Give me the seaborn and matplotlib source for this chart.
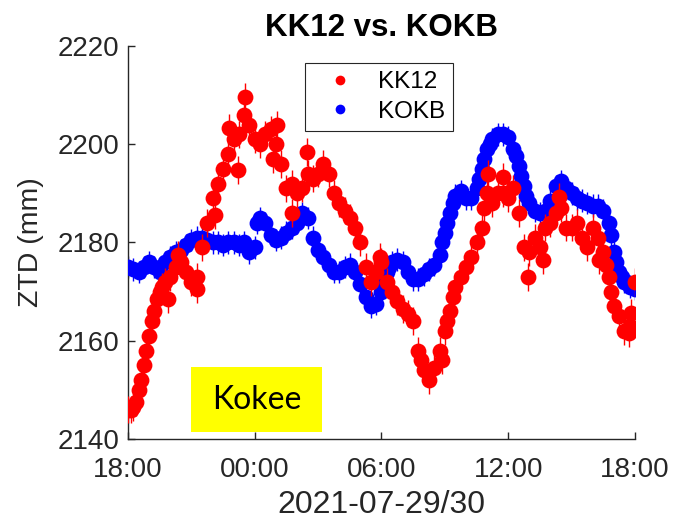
import matplotlib
matplotlib.use("Agg")
import matplotlib.pyplot as plt
import matplotlib.dates as mdates
from matplotlib.lines import Line2D
from matplotlib.patches import Rectangle
import pandas as pd
import seaborn as sns

# --- data -------------------------------------------------------------
START = "2021-07-29 18:00"
END = "2021-07-30 18:00"

# ZTD samples every 15 minutes, 18:00 -> 18:00 (mm)
kokb_ztd = [
    2175, 2174.5, 2174, 2175, 2176, 2175, 2174, 2176, 2177, 2178,
    2178.5, 2179.5, 2180.5, 2181, 2181, 2180.5, 2180, 2180, 2179.5, 2180,
    2180, 2179.5, 2180, 2178, 2179, 2185, 2184, 2181.5, 2180.5, 2181,
    2182, 2183, 2184, 2186, 2185, 2181, 2178.5, 2177, 2175.5, 2174,
    2174, 2175, 2175.5, 2174, 2171.5, 2169, 2167, 2167.5, 2170, 2174,
    2176, 2176.5, 2176, 2174, 2172.5, 2172.5, 2173.5, 2174.5, 2175.5, 2177.5,
    2182, 2186, 2189.5, 2190.5, 2189, 2189, 2191, 2195, 2199, 2201,
    2202, 2202, 2201.5, 2199, 2195.5, 2191.5, 2188, 2186.5, 2186, 2186.5,
    2188.5, 2191.5, 2192.5, 2191, 2190, 2189, 2188.5, 2188, 2187.5, 2187.5,
    2186.5, 2184, 2178, 2174, 2172, 2171, 2170.5,
]

kk12_ztd = [
    2146, 2146.5, 2150, 2155, 2161, 2166, 2170, 2172, 2173, 2175,
    2176, 2174, 2172, 2173, 2179, 2184, 2189, 2192, 2195, 2198,
    2201, 2202, 2206, 2204, 2201, 2200, 2202, 2203, 2200, 2196,
    2191, 2192, 2190, 2191, 2194, 2193, 2194, 2196, 2194, 2190,
    2188, 2186.5, 2185, 2183, 2180, 2175, 2172, 2174, 2176, 2172,
    2170, 2168, 2166.5, 2165.5, 2164, 2158, 2154, 2152, 2154.5, 2158,
    2162, 2166, 2171, 2173, 2175, 2177, 2180, 2183, 2190, 2188,
    2190, 2190, 2189, 2191, 2186, 2179, 2178, 2181, 2179, 2183,
    2184, 2186, 2187, 2183, 2183, 2184, 2181, 2179, 2183, 2181,
    2178, 2173, 2167, 2165, 2162, 2163, 2172,
]

# intermediate KOKB solutions during the fast changes
kokb_extra_time = [
    "2021-07-30 00:07", "2021-07-30 06:07", "2021-07-30 06:22",
    "2021-07-30 08:52", "2021-07-30 09:07", "2021-07-30 09:22",
    "2021-07-30 10:37", "2021-07-30 10:52", "2021-07-30 11:07",
    "2021-07-30 12:22", "2021-07-30 12:37", "2021-07-30 12:52",
    "2021-07-30 16:52", "2021-07-30 17:07", "2021-07-30 17:22",
]
kokb_extra_ztd = [
    2184, 2172, 2175,
    2180, 2184, 2188,
    2193, 2197, 2200,
    2197.5, 2193.5, 2189.5,
    2181.5, 2176, 2173,
]

# intermediate and scattered KK12 solutions
kk12_extra_time = [
    "2021-07-29 18:07", "2021-07-29 18:22", "2021-07-29 18:37",
    "2021-07-29 18:52", "2021-07-29 19:07", "2021-07-29 19:22",
    "2021-07-29 19:37", "2021-07-29 19:54", "2021-07-29 20:22",
    "2021-07-29 21:15", "2021-07-29 22:06", "2021-07-29 22:48",
    "2021-07-29 23:12", "2021-07-29 23:33", "2021-07-30 00:51",
    "2021-07-30 01:03", "2021-07-30 01:46", "2021-07-30 02:29",
    "2021-07-30 05:56", "2021-07-30 07:52", "2021-07-30 08:51",
    "2021-07-30 09:07", "2021-07-30 09:22", "2021-07-30 10:52",
    "2021-07-30 11:02", "2021-07-30 11:45", "2021-07-30 12:56",
    "2021-07-30 13:39", "2021-07-30 14:24", "2021-07-30 16:18",
    "2021-07-30 16:37", "2021-07-30 16:52", "2021-07-30 17:42",
    "2021-07-30 17:48",
]
kk12_extra_ztd = [
    2146, 2147.5, 2152,
    2158, 2164, 2168.5,
    2171, 2168.5, 2177.5,
    2170.5, 2185.5, 2203.3,
    2194.8, 2209.6, 2197,
    2204, 2186, 2198.4,
    2177, 2156, 2156,
    2164, 2169, 2187,
    2194, 2193.3, 2173,
    2176.4, 2189.3, 2176.4,
    2175.5, 2170, 2161.5,
    2165.6,
]

KK12_SIGMA = 2.8   # mm
KOKB_SIGMA = 2.3   # mm

y_ticks = [2140, 2160, 2180, 2200, 2220]

# --- tables -----------------------------------------------------------
epochs = pd.date_range(START, END, freq="15min")
kokb = pd.concat([
    pd.DataFrame({"time": epochs, "ztd": kokb_ztd}),
    pd.DataFrame({"time": pd.to_datetime(kokb_extra_time), "ztd": kokb_extra_ztd}),
]).sort_values("time")
kk12 = pd.concat([
    pd.DataFrame({"time": epochs, "ztd": kk12_ztd}),
    pd.DataFrame({"time": pd.to_datetime(kk12_extra_time), "ztd": kk12_extra_ztd}),
]).sort_values("time")

# --- figure -----------------------------------------------------------
sns.set_style("ticks")
plt.rcParams["font.family"] = ["Liberation Sans", "DejaVu Sans"]
ink = "#262626"

fig = plt.figure(figsize=(6.74, 5.22), dpi=100)
ax = fig.add_axes([0.190, 0.159, 0.752, 0.753])

# KOKB first, KK12 on top
ax.errorbar(kokb["time"], kokb["ztd"], yerr=KOKB_SIGMA, fmt="none",
            ecolor="blue", elinewidth=1.0, capsize=0, zorder=2)
sns.scatterplot(data=kokb, x="time", y="ztd", ax=ax, color="blue",
                s=130, linewidth=0, zorder=3, legend=False)
ax.errorbar(kk12["time"], kk12["ztd"], yerr=KK12_SIGMA, fmt="none",
            ecolor="red", elinewidth=1.0, capsize=0, zorder=4)
sns.scatterplot(data=kk12, x="time", y="ztd", ax=ax, color="red",
                s=130, linewidth=0, zorder=5, legend=False)

ax.set_xlim(pd.Timestamp(START), pd.Timestamp(END))
ax.set_ylim(2140, 2220)
ax.set_yticks(y_ticks)
ax.xaxis.set_major_locator(mdates.HourLocator(byhour=[0, 6, 12, 18]))
ax.xaxis.set_major_formatter(mdates.DateFormatter("%H:%M"))

for side in ("top", "right"):
    ax.spines[side].set_visible(False)
for side in ("left", "bottom"):
    ax.spines[side].set_color(ink)
    ax.spines[side].set_linewidth(1.0)
ax.tick_params(direction="in", length=5, width=1.0, colors=ink,
               labelsize=20)
ax.tick_params(axis="y", pad=6)
ax.tick_params(axis="x", pad=13)

ax.set_xlabel("2021-07-29/30", fontsize=23, color=ink, labelpad=5)
ax.set_ylabel("ZTD (mm)", fontsize=20.5, color=ink, labelpad=10)
ax.set_title("KK12 vs. KOKB", fontsize=22.5, fontweight="bold",
             color="black", pad=7)

handles = [
    Line2D([], [], linestyle="none", marker="o", markersize=7,
           markerfacecolor="red", markeredgecolor="none"),
    Line2D([], [], linestyle="none", marker="o", markersize=7,
           markerfacecolor="blue", markeredgecolor="none"),
]
leg = ax.legend(handles, ["KK12", "KOKB"], loc="upper left",
                bbox_to_anchor=(0.349, 0.957), fontsize=17.5,
                frameon=True, fancybox=False, framealpha=1,
                edgecolor=ink, borderpad=0.35, handlelength=2.2,
                handletextpad=0.45, labelspacing=0.3, borderaxespad=0)
leg.get_frame().set_linewidth(0.8)
for t in leg.get_texts():
    t.set_color("black")

# station tag
ax.add_patch(Rectangle((0.124, 0.018), 0.259, 0.165, transform=ax.transAxes,
                       facecolor="#ffff00", edgecolor="none", zorder=6))
ax.text(0.2535, 0.099, "Kokee", transform=ax.transAxes, ha="center",
        va="center", fontsize=23, family=["Lato", "DejaVu Sans"],
        color="black", zorder=7)

fig.savefig("out.png", dpi=100)
